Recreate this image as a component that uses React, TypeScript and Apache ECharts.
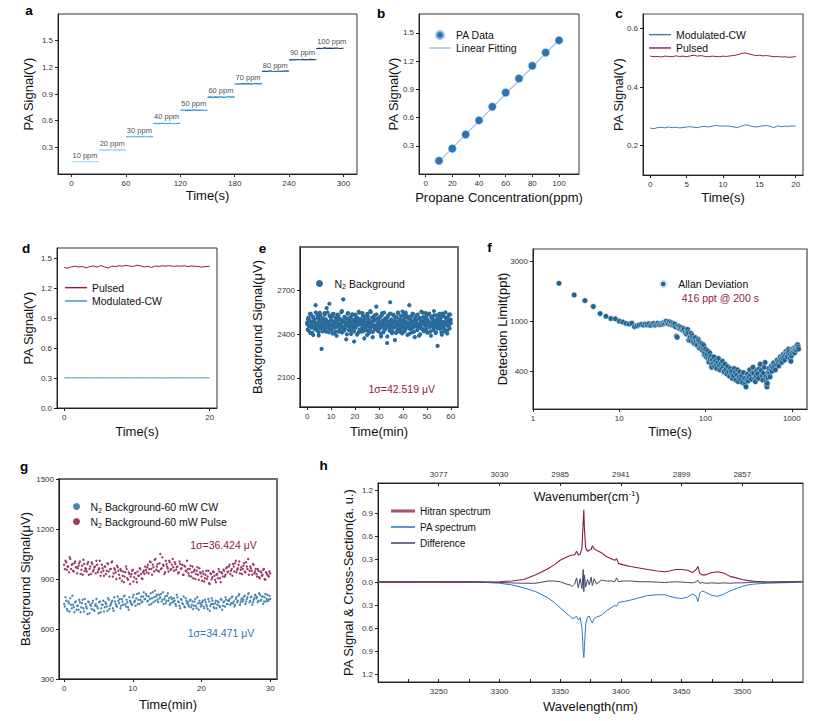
import React, { useEffect, useRef } from "react";
import * as echarts from "echarts";

const FONT = "'Liberation Sans', Arial, Helvetica, sans-serif";
const MAROON = "#8c1d4f";
const AX = "#222";
const LINE_ICON = "path://M0,0L20,0L20,1.3L0,1.3Z";
const THICK_ICON = "path://M0,0L20,0L20,2.6L0,2.6Z";

// ---------- panel a / b ----------
const concentrations = [10, 20, 30, 40, 50, 60, 70, 80, 90, 100];
const paLevels = [0.14, 0.27, 0.42, 0.57, 0.715, 0.865, 1.015, 1.15, 1.29, 1.42];
const stepStarts = [0, 30, 60, 90, 120, 150, 180, 210, 240, 270];
const stepOffsets = [0, 3, 6, 9, 12, 15, 18, 21, 24, 27, 30];
const stepLabels = ["10 ppm", "20 ppm", "30 ppm", "40 ppm", "50 ppm", "60 ppm", "70 ppm", "80 ppm", "90 ppm", "100 ppm"];
const stepColors = ["#a8dcf5", "#7ccdf2", "#5bbdec", "#3fabe3", "#2396d9", "#1a86c9", "#1a71ad", "#1d5f93", "#1c4d79", "#173d62"];
const stepTraces = [
  [0.140, 0.138, 0.141, 0.139, 0.137, 0.140, 0.139, 0.141, 0.138, 0.140, 0.139],
  [0.270, 0.272, 0.269, 0.271, 0.273, 0.270, 0.272, 0.271, 0.269, 0.272, 0.270],
  [0.420, 0.422, 0.419, 0.423, 0.421, 0.420, 0.422, 0.419, 0.421, 0.423, 0.420],
  [0.568, 0.570, 0.566, 0.569, 0.571, 0.567, 0.570, 0.568, 0.565, 0.569, 0.570],
  [0.717, 0.720, 0.715, 0.719, 0.716, 0.721, 0.718, 0.715, 0.719, 0.717, 0.720],
  [0.864, 0.868, 0.862, 0.867, 0.865, 0.869, 0.863, 0.866, 0.868, 0.864, 0.867],
  [1.010, 1.015, 1.012, 1.017, 1.013, 1.016, 1.011, 1.015, 1.018, 1.014, 1.017],
  [1.152, 1.157, 1.154, 1.160, 1.156, 1.153, 1.159, 1.155, 1.158, 1.161, 1.157],
  [1.282, 1.286, 1.283, 1.288, 1.285, 1.289, 1.284, 1.287, 1.290, 1.286, 1.288],
  [1.410, 1.415, 1.412, 1.418, 1.414, 1.416, 1.413, 1.417, 1.415, 1.412, 1.416],
];
const fitEnds = [[10, 0.132], [100, 1.425]];

// ---------- panel c ----------
const cCW = [0.260, 0.258, 0.262, 0.263, 0.261, 0.264, 0.262, 0.263, 0.261, 0.262, 0.264, 0.265, 0.263, 0.262, 0.265, 0.266, 0.264, 0.267, 0.269, 0.268, 0.267, 0.268, 0.266, 0.264, 0.262, 0.267, 0.271, 0.270, 0.266, 0.264, 0.266, 0.268, 0.269, 0.266, 0.262, 0.268, 0.265, 0.267, 0.266, 0.268, 0.267];
const cPulsed = [0.506, 0.504, 0.505, 0.503, 0.506, 0.505, 0.504, 0.507, 0.505, 0.506, 0.504, 0.507, 0.509, 0.506, 0.508, 0.505, 0.504, 0.506, 0.505, 0.504, 0.506, 0.505, 0.507, 0.508, 0.511, 0.515, 0.517, 0.514, 0.511, 0.508, 0.509, 0.507, 0.508, 0.506, 0.504, 0.505, 0.503, 0.504, 0.502, 0.503, 0.505];

// ---------- panel d ----------
const dPulsed = [1.405, 1.398, 1.412, 1.418, 1.410, 1.415, 1.402, 1.414, 1.420, 1.408, 1.425, 1.412, 1.400, 1.418, 1.415, 1.422, 1.418, 1.426, 1.420, 1.415, 1.428, 1.422, 1.410, 1.418, 1.405, 1.420, 1.416, 1.422, 1.418, 1.424, 1.416, 1.420, 1.418, 1.422, 1.415, 1.420, 1.417, 1.413, 1.410, 1.415, 1.418];
const dCW = [0.300, 0.302, 0.301, 0.303, 0.300, 0.302, 0.301, 0.300, 0.302, 0.301, 0.303, 0.301, 0.300, 0.302, 0.301, 0.300, 0.301, 0.302, 0.300, 0.301, 0.302, 0.303, 0.301, 0.302, 0.300, 0.301, 0.302, 0.301, 0.300, 0.302, 0.301, 0.302, 0.303, 0.301, 0.300, 0.302, 0.301, 0.300, 0.302, 0.301, 0.300];

// ---------- panel e ----------
const eBackground = [
  2480, 2432, 2515, 2456, 2498, 2410, 2540, 2468, 2445, 2522, 2395, 2488, 2505, 2450, 2600, 2472, 2430, 2530, 2462, 2415, 2495, 2548, 2440, 2478, 2300, 2510, 2452, 2490, 2425, 2535, 2466, 2502, 2418, 2484, 2550, 2445, 2470, 2610, 2438, 2498,
  2460, 2525, 2405, 2487, 2541, 2448, 2476, 2420, 2512, 2390, 2495, 2458, 2530, 2470, 2432, 2505, 2466, 2552, 2412, 2485, 2640, 2450, 2520, 2440, 2478, 2365, 2508, 2462, 2545, 2428, 2490, 2455, 2518, 2402, 2474, 2538, 2446, 2500, 2420, 2482,
  2535, 2452, 2470, 2398, 2510, 2464, 2555, 2430, 2488, 2505, 2418, 2476, 2545, 2440, 2496, 2372, 2520, 2458, 2482, 2426, 2540, 2468, 2500, 2410, 2486, 2560, 2444, 2474, 2515, 2380, 2492, 2456, 2528, 2434, 2462, 2590, 2448, 2506, 2422, 2478,
  2512, 2440, 2468, 2385, 2530, 2455, 2494, 2415, 2548, 2470, 2436, 2508, 2462, 2340, 2520, 2450, 2488, 2425, 2542, 2466, 2498, 2408, 2475, 2535, 2445, 2490, 2360, 2516, 2458, 2482, 2430, 2550, 2464, 2500, 2418, 2472, 2525, 2448, 2405, 2495,
  2462, 2532, 2420, 2485, 2548, 2446, 2472, 2395, 2510, 2458, 2600, 2436, 2492, 2522, 2412, 2468, 2540, 2450, 2486, 2380, 2515, 2462, 2498, 2428, 2536, 2470, 2445, 2505, 2400, 2482, 2555, 2440, 2476, 2518, 2422, 2490, 2460, 2545, 2432, 2470,
  2500, 2412, 2488, 2542, 2450, 2475, 2390, 2522, 2466, 2505, 2430, 2560, 2448, 2480, 2415, 2530, 2458, 2320, 2495, 2470, 2540, 2438, 2510, 2462, 2398, 2486, 2528, 2446, 2476, 2420, 2550, 2468, 2492, 2405, 2515, 2455, 2535, 2440, 2482, 2500,
];
const eBackgroundB = [
  2470, 2505, 2425, 2490, 2540, 2455, 2482, 2410, 2520, 2462, 2498, 2435, 2550, 2475, 2445, 2512, 2392, 2486, 2530, 2458,
  2476, 2420, 2508, 2466, 2545, 2440, 2492, 2580, 2452, 2484, 2415, 2526, 2468, 2500, 2430, 2538, 2460, 2488, 2405, 2515,
  2448, 2494, 2535, 2472, 2418, 2506, 2456, 2480, 2560, 2438, 2496, 2424, 2518, 2464, 2482, 2400, 2542, 2470, 2450, 2510,
  2490, 2428, 2532, 2460, 2476, 2350, 2502, 2446, 2520, 2468, 2488, 2412, 2548, 2474, 2436, 2496, 2462, 2528, 2422, 2484,
  2506, 2444, 2470, 2395, 2524, 2458, 2492, 2432, 2552, 2466, 2480, 2416, 2514, 2450, 2498, 2440, 2536, 2472, 2426, 2488,
  2462, 2518, 2404, 2484, 2546, 2454, 2476, 2430, 2508, 2468, 2494, 2385, 2528, 2460, 2482, 2620, 2446, 2502, 2420, 2478,
  2530, 2452, 2488, 2410, 2516, 2464, 2544, 2438, 2474, 2500, 2424, 2492, 2556, 2448, 2470, 2512, 2434, 2486, 2526, 2458,
  2478, 2402, 2520, 2466, 2496, 2442, 2540, 2472, 2418, 2504, 2456, 2484, 2532, 2444, 2468, 2390, 2512, 2462, 2490, 2436,
  2548, 2474, 2428, 2500, 2458, 2520, 2412, 2482, 2538, 2450, 2476, 2420, 2514, 2466, 2494, 2446, 2530, 2470, 2408, 2486,
  2504, 2440, 2472, 2526, 2454, 2488, 2414, 2542, 2460, 2480, 2432, 2518, 2468, 2498, 2426, 2510, 2456, 2484, 2536, 2476,
];

// ---------- panel f ----------
const fAllan = [
  [2, 2005], [3, 1620], [4, 1460], [5, 1310], [6, 1150], [7, 1095], [8, 1050], [9, 1045], [10, 1000], [11, 985], [12, 960], [13, 950], [14, 965], [15, 905], [16, 920], [17, 935], [18, 945], [19, 930], [20, 950],
  [21, 935], [22, 955], [23, 925], [24, 945], [25, 960], [26, 930], [27, 950], [28, 965], [29, 940], [30, 955], [31, 945], [32, 970], [33, 960], [34, 985], [35, 1000], [36, 970], [37, 955], [38, 990], [39, 950], [40, 975],
  [41, 935], [42, 960], [43, 925], [44, 950], [45, 900], [46, 760], [47, 745], [48, 915], [49, 880], [50, 905], [51, 870], [52, 890], [54, 850], [55, 880], [56, 860], [58, 820], [60, 790], [61, 840], [62, 860], [63, 810],
  [64, 705], [66, 745], [67, 700], [68, 800], [70, 770], [71, 730], [72, 690], [74, 665], [75, 720], [76, 740], [78, 690], [79, 650], [80, 645], [82, 720], [83, 700], [85, 610], [86, 675], [88, 640], [89, 625], [91, 660],
  [92, 585], [94, 610], [95, 645], [97, 540], [98, 565], [100, 600], [102, 520], [104, 545], [106, 580], [107, 505], [109, 480], [110, 470], [112, 560], [113, 500], [115, 525], [117, 455], [118, 430], [120, 495], [123, 460], [125, 520],
  [127, 440], [130, 485], [133, 450], [135, 420], [138, 470], [141, 505], [144, 445], [147, 410], [150, 460], [154, 425], [157, 480], [160, 440], [164, 395], [168, 455], [172, 410], [176, 380], [180, 435], [185, 395], [190, 365], [194, 420],
  [198, 385], [200, 400], [205, 350], [210, 370], [215, 420], [220, 390], [225, 340], [230, 375], [235, 410], [240, 330], [245, 360], [250, 395], [255, 345], [262, 370], [268, 325], [275, 390], [282, 350], [288, 315], [295, 300], [300, 340],
  [306, 380], [312, 335], [318, 360], [325, 410], [332, 375], [340, 345], [348, 390], [355, 430], [362, 385], [370, 350], [378, 330], [385, 365], [392, 405], [400, 380], [410, 350], [420, 420], [430, 455], [440, 405], [450, 370], [460, 340],
  [470, 385], [480, 430], [490, 470], [500, 360], [505, 330], [510, 310], [515, 300], [520, 320], [527, 355], [535, 395], [542, 420], [550, 385], [560, 360], [570, 410], [580, 440], [590, 400], [600, 430], [615, 465], [630, 440], [645, 410],
  [660, 455], [675, 490], [690, 470], [705, 440], [720, 485], [735, 520], [750, 500], [765, 470], [780, 510], [795, 545], [810, 525], [825, 490], [840, 540], [855, 575], [870, 555], [885, 520], [900, 565], [915, 600], [930, 575], [945, 540],
  [960, 505], [975, 480], [990, 530], [1005, 565], [1020, 600], [1035, 580], [1050, 610], [1065, 595], [1080, 560], [1095, 600], [1110, 625], [1125, 590], [1140, 640], [1155, 615], [1170, 650], [1185, 625], [1200, 600],
];

// ---------- panel g ----------
const gPulse = [
  985, 1010, 955, 975, 1030, 960, 990, 945, 1005, 970, 965, 995, 930, 980, 1015, 950, 960, 990, 925, 975,
  1000, 945, 970, 935, 985, 955, 1010, 940, 965, 920, 975, 950, 990, 915, 960, 1005, 935, 955, 900, 970,
  925, 960, 890, 945, 915, 975, 905, 940, 870, 930, 955, 910, 935, 880, 920, 965, 930, 900, 950, 975,
  940, 985, 960, 1000, 925, 970, 1015, 955, 990, 945, 1050, 965, 985, 930, 1010, 975, 945, 1000, 960, 1020,
  950, 990, 970, 935, 1005, 960, 985, 925, 975, 945, 960, 920, 980, 940, 905, 955, 930, 970, 895, 940,
  915, 945, 885, 925, 900, 950, 870, 930, 910, 940, 895, 925, 905, 945, 880, 935, 955, 915, 965, 940,
  975, 930, 960, 990, 945, 1010, 955, 985, 935, 970, 960, 995, 940, 975, 1020, 950, 965, 925, 985, 945,
  930, 960, 910, 945, 920, 955, 900, 940, 925, 915, 935,
];
const gPulseB = [
  960, 1000, 975, 940, 1020, 985, 950, 995, 970, 935, 980, 1005, 955, 925, 990, 965, 945, 1000, 960, 930,
  990, 955, 975, 1010, 940, 965, 920, 985, 950, 975, 930, 995, 945, 960, 1000, 915, 965, 940, 980, 950,
  905, 950, 920, 880, 940, 960, 895, 930, 915, 950, 885, 935, 900, 945, 920, 960, 905, 940, 930, 955,
  970, 935, 1005, 960, 985, 945, 1020, 975, 950, 995, 960, 1030, 980, 940, 990, 965, 1010, 955, 985, 970,
  1000, 955, 975, 940, 990, 965, 925, 980, 950, 1010, 935, 960, 915, 975, 945, 900, 950, 925, 965, 935,
  890, 930, 905, 950, 915, 875, 935, 900, 945, 920, 880, 930, 960, 905, 940, 915, 950, 925, 970, 945,
  985, 950, 920, 975, 995, 940, 965, 1005, 955, 930, 980, 945, 1000, 960, 925, 975, 950, 990, 935, 960,
  915, 950, 905, 940, 925, 960, 895, 935, 920, 945,
];
const gCW = [
  750, 790, 720, 765, 705, 745, 800, 730, 760, 715, 740, 775, 700, 755, 725, 780, 735, 690, 760, 745,
  720, 770, 710, 750, 735, 695, 765, 725, 745, 705, 760, 735, 785, 720, 750, 770, 710, 765, 740, 795,
  755, 725, 780, 745, 800, 735, 760, 715, 770, 750, 790, 760, 740, 810, 775, 750, 795, 765, 820, 780,
  800, 770, 745, 815, 785, 760, 830, 795, 775, 805, 790, 765, 820, 780, 755, 800, 770, 745, 790, 760,
  785, 750, 805, 765, 740, 780, 755, 795, 730, 770, 760, 735, 775, 745, 720, 765, 740, 790, 715, 755,
  745, 770, 725, 760, 735, 780, 710, 750, 770, 730, 755, 725, 765, 740, 780, 715, 760, 735, 775, 750,
  770, 745, 790, 755, 735, 780, 760, 800, 745, 775, 765, 795, 750, 780, 810, 760, 790, 745, 775, 805,
  785, 760, 815, 770, 795, 750, 790, 765, 805, 775, 780,
];
const gCWB = [
  735, 770, 710, 755, 785, 725, 745, 700, 765, 740, 715, 760, 730, 775, 705, 750, 725, 765, 695, 740,
  755, 715, 740, 780, 725, 760, 700, 745, 770, 730, 750, 710, 775, 740, 760, 725, 790, 750, 735, 770,
  780, 740, 765, 795, 750, 775, 730, 790, 760, 745, 805, 770, 785, 750, 815, 775, 760, 795, 780, 810,
  765, 795, 780, 750, 820, 790, 770, 805, 760, 785, 810, 775, 750, 795, 770, 815, 785, 755, 780, 765,
  770, 740, 790, 760, 725, 775, 750, 735, 785, 755, 745, 770, 730, 765, 740, 780, 725, 755, 770, 735,
  760, 735, 775, 745, 720, 765, 740, 785, 750, 725, 770, 745, 760, 730, 775, 740, 765, 790, 750, 770,
  780, 755, 795, 765, 745, 790, 770, 810, 760, 785, 775, 800, 765, 790, 815, 770, 795, 760, 785, 800,
  790, 770, 805, 775, 795, 765, 810, 780, 770, 800,
];

// ---------- panel h ----------
const hWave = [3200, 3220, 3240, 3260, 3280, 3290, 3300, 3310, 3320, 3330, 3340, 3345, 3350, 3355, 3358, 3360, 3362, 3363.5, 3365, 3366.5, 3368, 3369, 3369.5, 3370, 3371, 3372.5, 3374, 3375.5, 3376.5, 3378, 3380, 3384, 3388, 3392, 3395, 3396.5, 3398, 3402, 3408, 3415, 3422, 3430, 3436, 3440, 3445, 3450, 3455, 3459, 3462, 3463.5, 3465, 3467, 3470, 3475, 3480, 3485, 3490, 3495, 3500, 3505, 3510, 3520, 3530, 3540, 3550];
const hHitran = [0.005, 0.005, 0.005, 0.005, 0.005, 0.006, 0.01, 0.02, 0.04, 0.10, 0.18, 0.23, 0.29, 0.33, 0.35, 0.36, 0.36, 0.41, 0.36, 0.37, 0.45, 0.80, 0.95, 0.70, 0.45, 0.41, 0.42, 0.43, 0.48, 0.44, 0.42, 0.39, 0.34, 0.31, 0.29, 0.31, 0.25, 0.23, 0.21, 0.19, 0.17, 0.15, 0.14, 0.15, 0.17, 0.17, 0.16, 0.13, 0.17, 0.21, 0.12, 0.10, 0.10, 0.13, 0.14, 0.12, 0.08, 0.06, 0.04, 0.025, 0.015, 0.008, 0.005, 0.005, 0.01];
const hPA = [0.01, 0.008, 0.01, 0.008, 0.005, 0.0, -0.01, -0.03, -0.07, -0.12, -0.20, -0.26, -0.33, -0.40, -0.44, -0.47, -0.46, -0.44, -0.49, -0.46, -0.60, -0.90, -0.98, -0.85, -0.55, -0.45, -0.44, -0.50, -0.53, -0.47, -0.45, -0.43, -0.37, -0.33, -0.30, -0.31, -0.26, -0.25, -0.23, -0.20, -0.17, -0.16, -0.16, -0.18, -0.20, -0.21, -0.19, -0.15, -0.18, -0.25, -0.14, -0.11, -0.13, -0.17, -0.18, -0.15, -0.11, -0.08, -0.05, -0.03, -0.02, -0.01, -0.005, 0.0, 0.01];
const hDiff = [0.01, 0.01, 0.01, 0.01, 0.01, 0.005, 0.0, -0.005, -0.01, -0.01, 0.02, 0.02, 0.01, -0.02, -0.03, -0.05, -0.02, 0.06, -0.07, 0.05, -0.08, 0.17, -0.12, 0.10, -0.06, 0.04, -0.03, 0.07, -0.04, 0.05, -0.02, 0.03, 0.02, 0.02, 0.01, 0.06, 0.01, 0.02, 0.02, 0.01, 0.01, 0.005, 0.0, 0.005, 0.01, 0.005, 0.0, -0.005, 0.01, 0.03, -0.01, 0.0, -0.01, -0.005, -0.01, -0.005, -0.01, -0.005, -0.005, 0.0, 0.005, 0.005, 0.01, 0.01, 0.01];

// ---------- ticks ----------
const aXTicks = [0, 60, 120, 180, 240, 300];
const paYTicks = [0.3, 0.6, 0.9, 1.2, 1.5];
const bXTicks = [0, 20, 40, 60, 80, 100];
const cXTicks = [0, 5, 10, 15, 20];
const cYTicks = [0.2, 0.4, 0.6];
const dXTicks = [0, 20];
const dYTicks = [0, 0.3, 0.6, 0.9, 1.2, 1.5];
const eXTicks = [0, 10, 20, 30, 40, 50, 60];
const eYTicks = [2100, 2400, 2700];
const fYTicks = [400, 1000, 3000];
const gXTicks = [0, 10, 20, 30];
const gYTicks = [300, 600, 900, 1200, 1500];
const hXTicks = [3250, 3300, 3350, 3400, 3450, 3500];
const hXMinor = [3225, 3250, 3275, 3300, 3325, 3350, 3375, 3400, 3425, 3450, 3475, 3500, 3525];
const hYTicks = [-1.2, -0.9, -0.6, -0.3, 0, 0.3, 0.6, 0.9, 1.2];

function axis(gridIndex: number, o: any) {
  const { ticks, labels, fmt, name, nameGap, inside, type, ...rest } = o;
  const axisTick: any = { show: true, inside: !!inside, length: 3, lineStyle: { color: AX, width: 1 } };
  if (ticks) axisTick.customValues = ticks;
  const axisLabel: any = { fontSize: 8, color: "#333", margin: 5, fontFamily: FONT, formatter: fmt || ((v: number) => String(v)) };
  if (labels || ticks) axisLabel.customValues = labels || ticks;
  return {
    type: type || "value",
    gridIndex,
    name,
    nameLocation: "middle",
    nameGap,
    nameMoveOverlap: false,
    nameTextStyle: { fontSize: 13, color: "#111", fontFamily: FONT },
    splitLine: { show: false },
    axisLine: { show: true, onZero: false, lineStyle: { color: AX, width: 1 } },
    axisTick,
    axisLabel,
    ...rest,
  };
}

const f1 = (v: number) => v.toFixed(1);

function legendFmt(n: string) {
  const s = n.replace(/^d:/, "");
  if (s.startsWith("N2")) return "{t|N}{s|2}{t|" + s.slice(2) + "}";
  return s;
}

function legend(left: number, top: number, data: any[], itemWidth: number, itemHeight: number, lineHeight: number, fontSize = 10.5) {
  return {
    orient: "vertical",
    left,
    top,
    padding: 0,
    itemGap: 0,
    itemWidth,
    itemHeight,
    selectedMode: false,
    data,
    formatter: legendFmt,
    textStyle: {
      fontSize,
      lineHeight,
      color: "#111",
      fontFamily: FONT,
      rich: {
        t: { fontSize, lineHeight, color: "#111", fontFamily: FONT },
        s: { fontSize: 7, lineHeight: 8, verticalAlign: "bottom", color: "#111", fontFamily: FONT },
      },
    },
  };
}

const li = (name: string, extra: any = {}) => ({ name, icon: LINE_ICON, ...extra });

function txt(x: number, y: number, text: string, extra: any = {}) {
  return {
    type: "text",
    x,
    y,
    silent: true,
    style: { text, fill: "#111", fontSize: 10.5, fontFamily: FONT, align: "center", verticalAlign: "middle", ...extra },
  };
}

function buildOption() {
  const grids = [
    [58, 14, 299, 160, "#333", 1],
    [419, 14, 160, 160, "#333", 1],
    [643, 14, 160, 161, "#555", 1.2],
    [57, 248, 160, 160, "#333", 1],
    [300, 247, 158, 160, "#6e6e6e", 2],
    [533, 249, 274, 160, "#444", 1.2],
    [59, 479, 218, 200, "#6e6e6e", 2],
    [378, 483, 425, 199, "#333", 1],
  ].map(([left, top, width, height, borderColor, borderWidth]) => ({
    left, top, width, height, show: true, borderColor, borderWidth, containLabel: false, outerBoundsMode: "none",
  }));

  const xAxis = [
    axis(0, { min: -15, max: 315, ticks: aXTicks, name: "Time(s)", nameGap: 15 }),
    axis(1, { min: -5, max: 115, ticks: bXTicks, name: "Propane Concentration(ppm)", nameGap: 17 }),
    axis(2, { min: -1, max: 21, ticks: cXTicks, name: "Time(s)", nameGap: 16 }),
    axis(3, { min: -1, max: 21, ticks: dXTicks, name: "Time(s)", nameGap: 17 }),
    axis(4, { min: -3, max: 63, ticks: eXTicks, name: "Time(min)", nameGap: 18 }),
    axis(5, { type: "log", logBase: 10, min: 1, max: 1500, name: "Time(s)", nameGap: 16, fmt: (v: number) => String(Math.round(v)) }),
    axis(6, { min: -0.75, max: 31, ticks: gXTicks, name: "Time(min)", nameGap: 19 }),
    axis(7, { min: 3200, max: 3550, ticks: hXMinor, labels: hXTicks, inside: true, name: "Wavelength(nm)", nameGap: 18 }),
    axis(7, { min: 3200, max: 3550, position: "top", ticks: hXTicks, inside: true, fmt: (v: number) => String(Math.round(1e7 / v)) }),
  ];
  const yAxis = [
    axis(0, { min: 0, max: 1.8, ticks: paYTicks, fmt: f1, name: "PA Signal(V)", nameGap: 23 }),
    axis(1, { min: 0, max: 1.7, ticks: paYTicks, fmt: f1, name: "PA Signal(V)", nameGap: 19 }),
    axis(2, { min: 0.1, max: 0.65, ticks: cYTicks, fmt: f1, name: "PA Signal(V)", nameGap: 18 }),
    axis(3, { min: 0, max: 1.6, ticks: dYTicks, fmt: f1, name: "PA Signal(V)", nameGap: 22 }),
    axis(4, { min: 1900, max: 3000, ticks: eYTicks, name: "Background Signal(μV)", nameGap: 36 }),
    axis(5, { min: Math.log10(200), max: Math.log10(3760), ticks: fYTicks.map((v) => Math.log10(v)), fmt: (v: number) => String(Math.round(Math.pow(10, v))), name: "Detection Limit(ppt)", nameGap: 24 }),
    axis(6, { min: 300, max: 1500, ticks: gYTicks, name: "Background Signal(μV)", nameGap: 27 }),
    axis(7, { min: -1.3, max: 1.3, ticks: hYTicks, fmt: (v: number) => Math.abs(v).toFixed(1), name: "PA Signal & Cross-Section(a. u.)", nameGap: 23 }),
  ];

  const lineS = (name: string, xi: number, data: any[], color: string, width = 1.1, z = 2) => ({
    type: "line", name, xAxisIndex: xi, yAxisIndex: xi, symbol: "none", showSymbol: false, color,
    lineStyle: { color, width }, data, z,
  });
  const scatS = (name: string, xi: number, data: any[], color: string, size: number, border?: string) => ({
    type: "scatter", name, xAxisIndex: xi, yAxisIndex: xi, symbol: "circle", symbolSize: size, color,
    itemStyle: { color, opacity: 1, borderColor: border || color, borderWidth: border ? 0.5 : 0 }, data,
  });

  const series: any[] = [];
  // a
  stepTraces.forEach((vals, i) => {
    series.push(lineS(stepLabels[i], 0, stepOffsets.map((o, k) => [stepStarts[i] + o, vals[k]]), stepColors[i], 1.2));
  });
  series.push({
    type: "scatter", name: "stepLabels", xAxisIndex: 0, yAxisIndex: 0, symbolSize: 1, silent: true,
    color: "#111",
    itemStyle: { color: "rgba(0,0,0,0)" },
    data: stepStarts.map((s, i) => [s + 1, paLevels[i], stepLabels[i]]),
    label: {
      show: true, position: "top", align: "left", distance: 2, fontSize: 7.5, color: "#111", fontFamily: FONT,
      formatter: (p: any) => "{l|" + p.value[2] + "}",
      rich: { l: { fontSize: 7.5, color: "#111", fontFamily: FONT } },
    },
    labelLayout: { hideOverlap: false },
  });
  // b
  series.push(lineS("Linear Fitting", 1, fitEnds, "#9cc0e3", 1.2, 1));
  series.push(scatS("PA Data", 1, concentrations.map((c, i) => [c, paLevels[i]]), "#2c73b0", 8, "#9cc4e6"));
  // c
  series.push(lineS("Modulated-CW", 2, cCW.map((v, i) => [i * 0.5, v]), "#4a79a5", 1));
  series.push(lineS("Pulsed", 2, cPulsed.map((v, i) => [i * 0.5, v]), MAROON, 1));
  // d
  series.push(lineS("d:Pulsed", 3, dPulsed.map((v, i) => [i * 0.5, v]), MAROON, 1));
  series.push(lineS("d:Modulated-CW", 3, dCW.map((v, i) => [i * 0.5, v]), "#3a93cc", 1));
  // e
  const eStep = 60 / (eBackground.length - 1);
  const eStepB = 60 / (eBackgroundB.length - 1);
  series.push(scatS("N2 Background", 4, [
    ...eBackground.map((v, i) => [i * eStep, v]),
    ...eBackgroundB.map((v, i) => [i * eStepB, v]),
  ], "#2a6b9c", 4.2));
  // f
  series.push(scatS("Allan Deviation", 5, fAllan.map(([t, v]) => [t, Math.log10(v)]), "#1f6391", 5.5, "#cfe0ee"));
  // g
  series.push(scatS("N2 Background-60 mW CW", 6, [
    ...gCW.map((v, i) => [i * 0.2, v]),
    ...gCWB.map((v, i) => [i * 0.2 + 0.1, v]),
  ], "#4a87ad", 2.4));
  series.push(scatS("N2 Background-60 mW Pulse", 6, [
    ...gPulse.map((v, i) => [i * 0.2, v]),
    ...gPulseB.map((v, i) => [i * 0.2 + 0.1, v]),
  ], "#9b3a6a", 2.4));
  // h
  const hData = (arr: number[]) => hWave.map((w, i) => [w, arr[i]]);
  series.push(lineS("PA spectrum", 7, hData(hPA), "#2b7bc0", 1));
  series.push(lineS("Hitran spectrum", 7, hData(hHitran), "#8b1a4b", 1.1));
  series.push(lineS("Difference", 7, hData(hDiff), "#3d4a6b", 1));

  const legends = [
    legend(429, 28.5, ["PA Data", li("Linear Fitting")], 22, 8, 13),
    legend(649, 28, [li("Modulated-CW"), li("Pulsed")], 22, 8, 13.3),
    legend(65, 281, [li("d:Pulsed"), li("d:Modulated-CW")], 22, 8, 13.3),
    legend(316, 277, ["N2 Background"], 20, 7, 13),
    legend(659, 277.5, ["Allan Deviation"], 20, 6.5, 13),
    legend(73, 499, ["N2 Background-60 mW CW", "N2 Background-60 mW Pulse"], 18, 7, 15),
    legend(391, 503, [
      { name: "Hitran spectrum", icon: THICK_ICON, itemStyle: { color: "#a8557a" } },
      li("PA spectrum"),
      li("Difference"),
    ], 24, 8, 16, 10),
  ];

  const letters = [
    ["a", 29, 10], ["b", 381, 13], ["c", 619, 13], ["d", 26, 248],
    ["e", 262.5, 248], ["f", 489.5, 247], ["g", 24, 466], ["h", 323.5, 465],
  ].map(([t, x, y]) => txt(x as number, y as number, t as string, { fontSize: 13.5, fontWeight: "bold", fill: "#000" }));

  const graphic = [
    ...letters,
    txt(401.7, 389, "1σ=42.519 μV", { fill: MAROON }),
    txt(681.7, 298.3, "416 ppt @ 200 s", { fill: MAROON, align: "left" }),
    txt(223.5, 545, "1σ=36.424 μV", { fill: MAROON }),
    txt(221, 632.7, "1σ=34.471 μV", { fill: "#2b78b2" }),
    {
      type: "text", x: 586.7, y: 496.7, silent: true,
      style: {
        text: "{w|Wavenumber(cm}{p|-1}{w|)}",
        align: "center", verticalAlign: "middle", fill: "#111",
        rich: {
          w: { fontSize: 12.5, lineHeight: 15, fontFamily: FONT, fill: "#111" },
          p: { fontSize: 8, lineHeight: 15, verticalAlign: "top", fontFamily: FONT, fill: "#111" },
        },
      },
    },
  ];

  return {
    animation: false,
    backgroundColor: "#ffffff",
    textStyle: { fontFamily: FONT },
    grid: grids,
    xAxis,
    yAxis,
    series,
    legend: legends,
    graphic,
  };
}

export default function App() {
  const ref = useRef<HTMLDivElement>(null);
  useEffect(() => {
    if (!ref.current) return;
    const chart = echarts.init(ref.current, null, { renderer: "svg" });
    chart.setOption(buildOption() as any);
    return () => chart.dispose();
  }, []);
  return <div ref={ref} style={{ position: "absolute", left: 0, top: 0, width: 828, height: 721, background: "#fff" }} />;
}
